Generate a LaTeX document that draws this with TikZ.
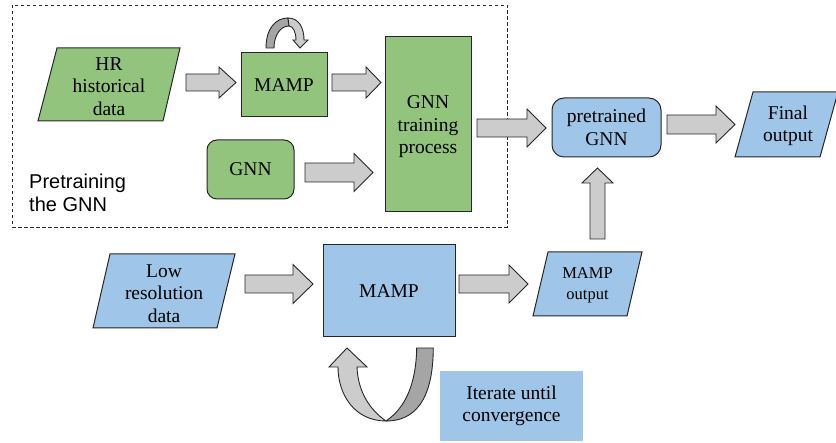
\documentclass[tikz,border=0pt]{standalone}
\usepackage{fontspec}
\setmainfont{Liberation Serif}
\newfontfamily\labelsans{Liberation Sans}
\definecolor{gfill}{HTML}{93C47D}
\definecolor{bfill}{HTML}{9FC5E8}
\definecolor{afill}{HTML}{CCCCCC}
\definecolor{adark}{HTML}{A5A5A5}
\definecolor{edgec}{HTML}{262626}
% horizontal block arrow: x1, x2(tip), yc, shaft half, head half, head start
\newcommand\hblock[6]{%
  \draw[arr] (#1,#3-#4) -- (#6,#3-#4) -- (#6,#3-#5) -- (#2,#3) -- (#6,#3+#5) -- (#6,#3+#4) -- (#1,#3+#4) -- cycle;}
\begin{document}
\begin{tikzpicture}[x=1pt,y=-1pt,
  box/.style={draw=edgec, line width=1pt},
  txt/.style={align=center, font=\fontsize{19.5}{22.5}\selectfont, inner sep=0pt},
  smalltxt/.style={align=center, font=\fontsize{16.5}{21}\selectfont, inner sep=0pt},
  arr/.style={draw=edgec, fill=afill, line width=0.9pt, line join=miter},
  arrdark/.style={draw=edgec, fill=adark, line width=0.9pt, line join=round},
]
\useasboundingbox (0,0) rectangle (836,443);

% dashed group
\draw[draw=edgec, line width=0.9pt, dash pattern=on 3.5pt off 2.5pt] (12,5) rectangle (507,227);
\node[anchor=north west, align=left, inner sep=0pt, font=\labelsans\fontsize{20}{23}\selectfont] (pre) at (29,174) {Pretraining\\the GNN};

% HR historical data
\draw[box, fill=gfill] (57,48) -- (180,48) -- (163,121) -- (38,121) -- cycle;
\node[txt] (hr) at (109,86.5) {HR\\historical\\data};

% MAMP (top)
\node[box, fill=gfill, minimum width=86pt, minimum height=64pt, txt] (mamp1) at (284,85) {MAMP};

% loop arrow above MAMP
\draw[arrdark] (266,48) .. controls (266,28) and (276,18) .. (288,18) -- (289,26) .. controls (280,26) and (274,36) .. (274,48) -- cycle;
\draw[arr] (288,18) .. controls (299,18) and (304,28) .. (304,40) -- (308,40) -- (300,48) -- (293,40) -- (296,40) .. controls (296,32) and (293,26) .. (289,26) -- cycle;

% GNN
\node[box, fill=gfill, rounded corners=10pt, minimum width=87pt, minimum height=59pt, txt] (gnn) at (250.5,169.5) {GNN};

% GNN training process
\node[box, fill=gfill, minimum width=86pt, minimum height=175pt] (train) at (428,124.5) {};
\node[txt] (traintxt) at (428,127) {GNN\\training\\process};

% pretrained GNN
\node[box, fill=bfill, rounded corners=12pt, minimum width=109pt, minimum height=59pt, txt] (pre2) at (606.5,127.5) {pretrained\\GNN};

% Final output
\draw[box, fill=bfill] (753,92) -- (838,92) -- (820,157) -- (735,157) -- cycle;
\node[txt] (final) at (788,126) {Final\\output};

% Low resolution data
\draw[box, fill=bfill] (110,254) -- (235,254) -- (217,328) -- (93,328) -- cycle;
\node[txt] (low) at (164,293.5) {Low\\resolution\\data};

% MAMP (bottom)
\node[box, fill=bfill, minimum width=132pt, minimum height=92pt, txt] (mamp2) at (389,291) {MAMP};

% MAMP output
\draw[box, fill=bfill] (548,252) -- (642,252) -- (627,316) -- (533,316) -- cycle;
\node[smalltxt] (mout) at (587.5,285) {MAMP\\output};

% Iterate until convergence
\node[fill=bfill, minimum width=143pt, minimum height=70pt, txt] (iter) at (511.5,406) {Iterate until\\convergence};

% U-turn arrow below MAMP
\draw[arrdark] (416.7,348) -- (433.3,348) .. controls (433,400) and (415,421) .. (386,421) .. controls (405,408) and (416,385) .. (416.7,348) -- cycle;
\draw[arr] (386,421) .. controls (355,421) and (338,395) .. (338,367) -- (329,367) -- (347,348) -- (367,367) -- (357,367) .. controls (358,392) and (370,410) .. (386,421) -- cycle;

% block arrows
\hblock{186}{236}{82.5}{8.5}{15.5}{219}
\hblock{332}{381}{82.5}{8.5}{15.5}{366}
\hblock{305}{373}{172.5}{9.5}{19}{354}
\hblock{477}{546}{128}{9}{19}{527}
\hblock{667}{735}{124.5}{9.5}{18.5}{716}
\hblock{245}{313}{284}{9}{19.5}{293}
\hblock{459}{528}{284}{9}{19}{509}
% upward arrow
\draw[arr] (590,239) -- (590,183) -- (582,183) -- (597.5,168) -- (613,183) -- (605,183) -- (605,239) -- cycle;
\end{tikzpicture}
\end{document}
